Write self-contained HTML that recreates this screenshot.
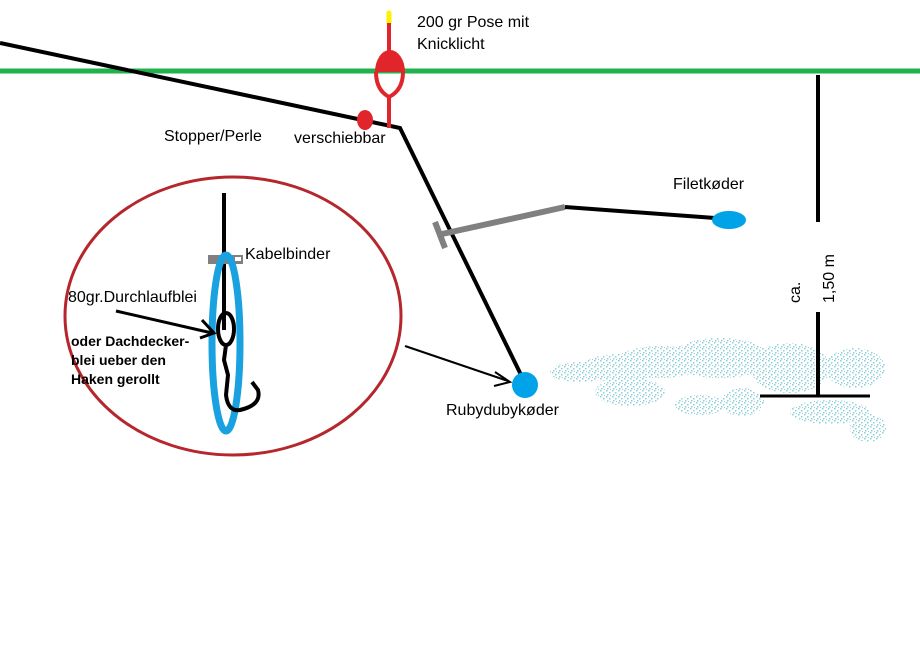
<!DOCTYPE html>
<html><head><meta charset="utf-8"><style>
html,body{margin:0;padding:0;background:#fff;width:920px;height:657px;overflow:hidden}
svg{display:block}
text{font-family:"Liberation Sans",sans-serif;font-size:16px;fill:#000}
</style></head><body>
<svg width="920" height="657" viewBox="0 0 920 657" xmlns="http://www.w3.org/2000/svg">
<defs>
<pattern id="dots" width="6" height="6" patternUnits="userSpaceOnUse">
<rect x="0" y="0" width="1.5" height="1.5" fill="#8ccfd8"/>
<rect x="3" y="2" width="1.5" height="1.5" fill="#8ccfd8"/>
<rect x="1" y="4" width="1.5" height="1.5" fill="#8ccfd8"/>
<rect x="4" y="5" width="1" height="1" fill="#8ccfd8"/>
</pattern>
</defs>
<g fill="url(#dots)">
<ellipse cx="580" cy="372" rx="30" ry="10"/>
<ellipse cx="620" cy="368" rx="40" ry="14"/>
<ellipse cx="660" cy="362" rx="45" ry="16"/>
<ellipse cx="720" cy="358" rx="50" ry="20"/>
<ellipse cx="630" cy="392" rx="35" ry="14"/>
<ellipse cx="700" cy="405" rx="25" ry="10"/>
<ellipse cx="742" cy="402" rx="22" ry="14"/>
<ellipse cx="790" cy="368" rx="40" ry="25"/>
<ellipse cx="855" cy="368" rx="30" ry="20"/>
<ellipse cx="830" cy="412" rx="40" ry="12"/>
<ellipse cx="868" cy="428" rx="18" ry="14"/>
<ellipse cx="580" cy="372" rx="30" ry="10"/>
<ellipse cx="720" cy="358" rx="50" ry="20"/>
<ellipse cx="790" cy="368" rx="40" ry="25"/>
<ellipse cx="868" cy="428" rx="18" ry="14"/>
</g>
<line x1="0" y1="71" x2="920" y2="71" stroke="#22b14c" stroke-width="5"/>
<polyline points="0,43 400,128 525,383" fill="none" stroke="#000" stroke-width="4"/>
<line x1="389" y1="13" x2="389" y2="23" stroke="#fff200" stroke-width="5" stroke-linecap="round"/>
<line x1="389" y1="23" x2="389" y2="55" stroke="#e0262b" stroke-width="4"/>
<path d="M375,72 A15,22 0 0 1 405,72 Z" fill="#e0262b"/>
<path d="M376,72 Q376,90 389,97 Q403,90 403,72" fill="none" stroke="#e0262b" stroke-width="4"/>
<line x1="389" y1="96" x2="389" y2="128" stroke="#e0262b" stroke-width="4"/>
<ellipse cx="365" cy="120" rx="8" ry="10" fill="#e0262b"/>
<line x1="442" y1="234" x2="565" y2="207" stroke="#808080" stroke-width="6"/>
<line x1="435" y1="222" x2="445" y2="248" stroke="#808080" stroke-width="6"/>
<line x1="565" y1="207" x2="715" y2="218" stroke="#000" stroke-width="4"/>
<ellipse cx="729" cy="220" rx="17" ry="9" fill="#00a2e8"/>
<circle cx="525" cy="385" r="13" fill="#00a2e8"/>
<line x1="818" y1="75" x2="818" y2="222" stroke="#000" stroke-width="4"/>
<line x1="818" y1="312" x2="818" y2="395" stroke="#000" stroke-width="4"/>
<line x1="760" y1="396" x2="870" y2="396" stroke="#000" stroke-width="3"/>
<text transform="translate(800,303) rotate(-90)">ca.</text>
<text transform="translate(834,303) rotate(-90)">1,50 m</text>
<ellipse cx="233" cy="316" rx="168" ry="139" fill="none" stroke="#b5272c" stroke-width="3"/>
<line x1="405" y1="346" x2="508" y2="381" stroke="#000" stroke-width="2"/>
<path d="M495,372 L510,382 L494,386" fill="none" stroke="#000" stroke-width="2"/>
<line x1="224" y1="193" x2="224" y2="330" stroke="#000" stroke-width="4"/>
<rect x="208" y="255" width="35" height="9" fill="#808080"/>
<rect x="235" y="257" width="6" height="4" fill="#fff"/>
<ellipse cx="226" cy="343" rx="14" ry="88" fill="none" stroke="#1aa1e0" stroke-width="7"/>
<ellipse cx="226" cy="329" rx="8" ry="16" fill="none" stroke="#000" stroke-width="4"/>
<path d="M226,345 L224,360 L228,375 L226,395 Q228,412 240,410 Q262,405 258,390 L252,382" fill="none" stroke="#000" stroke-width="4"/>
<line x1="116" y1="311" x2="212" y2="333" stroke="#000" stroke-width="3"/>
<path d="M202,320 L214,333 L200,338" fill="none" stroke="#000" stroke-width="3"/>
<text x="417" y="27">200 gr Pose mit</text>
<text x="417" y="49">Knicklicht</text>
<text x="164" y="141">Stopper/Perle</text>
<text x="294" y="143">verschiebbar</text>
<text x="673" y="189">Filetkøder</text>
<text x="245" y="259">Kabelbinder</text>
<text x="68" y="302">80gr.Durchlaufblei</text>
<text x="446" y="415">Rubydubykøder</text>
<text x="71" y="346" style="font-weight:bold;font-size:14px">oder Dachdecker-</text>
<text x="71" y="365" style="font-weight:bold;font-size:14px">blei ueber den</text>
<text x="71" y="384" style="font-weight:bold;font-size:14px">Haken gerollt</text>
</svg>
</body></html>
